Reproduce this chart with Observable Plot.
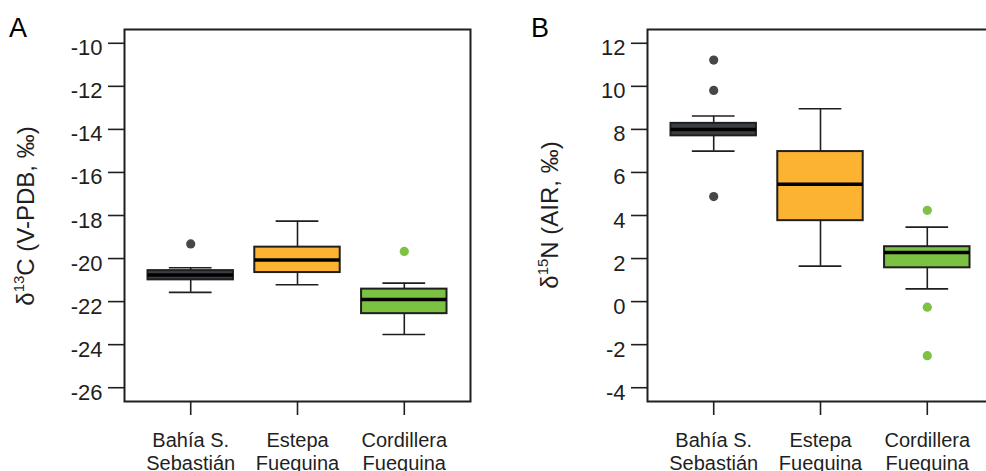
<!DOCTYPE html>
<html>
<head>
<meta charset="utf-8">
<script src="https://cdn.jsdelivr.net/npm/d3@7"></script>
<script src="https://cdn.jsdelivr.net/npm/@observablehq/plot@0.6"></script>
<style>
  html, body { margin: 0; padding: 0; background: #fff; }
  #wrap { position: relative; width: 986px; height: 471px; overflow: hidden; background: #fff; }
  #wrap > div { position: absolute; top: 0; }
  #panelA { left: 0; }
  #panelB { left: 490px; }
</style>
</head>
<body>
<div id="wrap"><div id="panelA"></div><div id="panelB"></div></div>
<script>
// ---------- data ----------
const categories = ["Bahía S.\nSebastián", "Estepa\nFueguina", "Cordillera\nFueguina"];
const boxFill = ["#3B3E42", "#FBB331", "#7BC142"];
const outlierFill = ["#454749", "#FBB331", "#7DC242"];

// Panel A: δ13C
const c_whiskerLow  = [-21.57, -21.22, -23.53];
const c_q1          = [-20.99, -20.65, -22.56];
const c_median      = [-20.76, -20.07, -21.90];
const c_q3          = [-20.56, -19.47, -21.42];
const c_whiskerHigh = [-20.43, -18.26, -21.14];
const c_outliers    = [[-19.32], [], [-19.67]];
const c_ticks = [-10, -12, -14, -16, -18, -20, -22, -24, -26];

// Panel B: δ15N
const n_whiskerLow  = [6.99, 1.65, 0.59];
const n_q1          = [7.70, 3.76, 1.57];
const n_median      = [8.00, 5.45, 2.28];
const n_q3          = [8.28, 6.97, 2.55];
const n_whiskerHigh = [8.62, 8.96, 3.46];
const n_outliers    = [[11.22, 9.81, 4.88], [], [4.24, -0.26, -2.51]];
const n_ticks = [12, 10, 8, 6, 4, 2, 0, -2, -4];

const FONT = "'Liberation Sans', Arial, Helvetica, sans-serif";
const INK = "#1f1f1f";

function panel({lo, q1, med, q3, hi, outs, ticks, ylim, width, marginLeft, marginRight}) {
  const rows = categories.map((c, i) => ({
    i: i + 1, lo: lo[i], q1: q1[i], med: med[i], q3: q3[i], hi: hi[i], fill: boxFill[i]
  }));
  const pts = [];
  outs.forEach((arr, i) => arr.forEach(v => pts.push({i: i + 1, v, fill: outlierFill[i]})));
  const pad = (ylim[1] - ylim[0]) * 0.04;
  return Plot.plot({
    width, height: 471,
    marginLeft, marginRight, marginTop: 29, marginBottom: 70,
    style: {fontFamily: FONT, background: "transparent", maxWidth: "none", color: INK, overflow: "visible"},
    x: {type: "linear", domain: [0.38, 3.62], axis: null},
    y: {type: "linear", domain: [ylim[0] - pad, ylim[1] + pad], axis: null},
    marks: [
      // y ticks and labels
      Plot.axisY({ticks, text: null, tickSize: 16, strokeWidth: 1.6, stroke: INK, label: null}),
      Plot.text(ticks, {y: d => d, text: d => String(d), frameAnchor: "left", textAnchor: "end",
                        dx: -22, dy: 5, fontSize: 22, fill: INK}),
      // x ticks and labels
      Plot.axisX({ticks: [1, 2, 3], text: null, tickSize: 14, strokeWidth: 1.6, stroke: INK, label: null}),
      Plot.text([1, 2, 3], {x: d => d, text: d => categories[d - 1], frameAnchor: "bottom",
                        lineAnchor: "top", textAnchor: "middle", dy: 29, lineHeight: 1.15,
                        fontSize: 20, fill: INK}),
      // whisker stems
      Plot.ruleX(rows, {x: "i", y1: "lo", y2: "hi", stroke: INK, strokeWidth: 1.6}),
      // whisker caps
      Plot.ruleY(rows, {y: "lo", x1: d => d.i - 0.2, x2: d => d.i + 0.2, stroke: INK, strokeWidth: 1.6}),
      Plot.ruleY(rows, {y: "hi", x1: d => d.i - 0.2, x2: d => d.i + 0.2, stroke: INK, strokeWidth: 1.6}),
      // boxes
      Plot.rectY(rows, {x1: d => d.i - 0.4, x2: d => d.i + 0.4, y1: "q1", y2: "q3",
                        fill: "fill", stroke: INK, strokeWidth: 2}),
      // medians
      Plot.ruleY(rows, {y: "med", x1: d => d.i - 0.4, x2: d => d.i + 0.4, stroke: "#000", strokeWidth: 3.5}),
      // outliers
      Plot.dot(pts, {x: "i", y: "v", r: 4.6, fill: "fill", stroke: null}),
      Plot.frame({stroke: INK, strokeWidth: 2})
    ]
  });
}

function addTitle(svg, x, y, pre, sup, post) {
  const t = d3.select(svg).append("text")
    .attr("transform", `translate(${x},${y}) rotate(-90)`)
    .attr("text-anchor", "middle")
    .style("font-family", FONT)
    .style("font-size", "24px")
    .attr("fill", INK);
  t.append("tspan").text(pre);
  t.append("tspan").style("font-size", "15px").attr("dy", -10).text(sup);
  t.append("tspan").attr("dy", 10).text(post);
}
function addLetter(svg, x, y, s) {
  d3.select(svg).append("text")
    .attr("x", x).attr("y", y)
    .style("font-family", FONT).style("font-size", "27px").attr("fill", "#000")
    .text(s);
}

const svgA = panel({lo: c_whiskerLow, q1: c_q1, med: c_median, q3: c_q3, hi: c_whiskerHigh,
  outs: c_outliers, ticks: c_ticks, ylim: [-26, -10], width: 490, marginLeft: 124, marginRight: 20});
addTitle(svgA, 34, 216, "δ", "13", "C (V-PDB, ‰)");
addLetter(svgA, 18, 37, "A");
document.getElementById("panelA").appendChild(svgA);

const svgB = panel({lo: n_whiskerLow, q1: n_q1, med: n_median, q3: n_q3, hi: n_whiskerHigh,
  outs: n_outliers, ticks: n_ticks, ylim: [-4, 12], width: 510, marginLeft: 157, marginRight: 7});
addTitle(svgB, 68, 215, "δ", "15", "N (AIR, ‰)");
addLetter(svgB, 50, 37, "B");
document.getElementById("panelB").appendChild(svgB);
</script>
</body>
</html>
